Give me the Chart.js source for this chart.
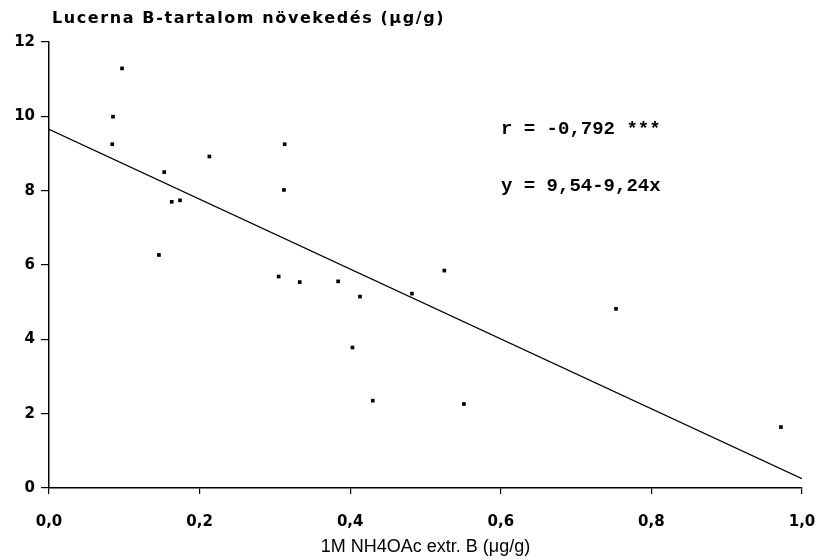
<!DOCTYPE html>
<html>
<head>
<meta charset="utf-8">
<script src="https://cdn.jsdelivr.net/npm/chart.js@4.4.1/dist/chart.umd.min.js"></script>
<style>
  html, body { margin: 0; padding: 0; background: #ffffff; }
  #wrap { width: 820px; height: 560px; position: relative; }
</style>
</head>
<body>
<div id="wrap"><canvas id="c" width="820" height="560"></canvas></div>
<script>
// ---- Data ----
const xValues = [0.097, 0.085, 0.084, 0.153, 0.213, 0.163, 0.174, 0.146, 0.313, 0.312,
                 0.305, 0.333, 0.384, 0.413, 0.403, 0.430, 0.482, 0.525, 0.551, 0.753, 0.972];
const yValues = [11.29, 9.99, 9.25, 8.50, 8.92, 7.70, 7.74, 6.27, 9.25, 8.02,
                 5.69, 5.54, 5.56, 5.15, 3.78, 2.35, 5.23, 5.85, 2.26, 4.82, 1.64];
const lineX = [0.0, 1.0];
const lineY = [9.65, 0.25];
const xTickLabels = ['0,0', '0,2', '0,4', '0,6', '0,8', '1,0'];
const yTickLabels = ['0', '2', '4', '6', '8', '10', '12'];
const yAxisTitle = 'Lucerna B-tartalom növekedés (μg/g)';
const xAxisTitle = '1M NH4OAc extr. B (μg/g)';
const rText = 'r = -0,792 ***';
const eqText = 'y = 9,54-9,24x';

const scatterData = xValues.map((x, i) => ({ x: x, y: yValues[i] }));
const lineData = lineX.map((x, i) => ({ x: x, y: lineY[i] }));

const textPlugin = {
  id: 'extraText',
  afterDraw(chart) {
    const ctx = chart.ctx;
    ctx.save();
    ctx.fillStyle = '#000';
    ctx.textBaseline = 'middle';
    ctx.textAlign = 'left';
    ctx.font = 'bold 16px "DejaVu Sans"';
    if ('letterSpacing' in ctx) ctx.letterSpacing = '1.6px';
    ctx.fillText(yAxisTitle, 52, 19);
    if ('letterSpacing' in ctx) ctx.letterSpacing = '0px';
    ctx.font = 'bold 19px "Liberation Mono"';
    ctx.fillText(rText, 501, 129);
    ctx.fillText(eqText, 501, 186);
    ctx.restore();
  }
};

new Chart(document.getElementById('c'), {
  type: 'scatter',
  data: {
    datasets: [
      {
        label: 'pontok',
        data: scatterData,
        backgroundColor: '#000',
        borderColor: '#000',
        pointStyle: 'rect',
        pointRadius: 2.6,
        borderWidth: 0
      },
      {
        type: 'line',
        label: 'regresszió',
        data: lineData,
        borderColor: '#000',
        borderWidth: 1.3,
        pointRadius: 0,
        fill: false,
        tension: 0
      }
    ]
  },
  options: {
    responsive: false,
    animation: false,
    layout: { padding: { top: 42, right: 18, left: 0, bottom: 0 } },
    plugins: {
      legend: { display: false },
      tooltip: { enabled: false }
    },
    scales: {
      x: {
        type: 'linear',
        min: 0, max: 1,
        border: { display: true, color: '#000', width: 1.5 },
        grid: { display: true, drawOnChartArea: false, color: '#000', tickLength: 6, lineWidth: 1.2 },
        ticks: {
          stepSize: 0.2,
          color: '#000',
          padding: 19,
          font: { family: '"DejaVu Sans"', size: 15, weight: 'bold' },
          callback: function (v, i) { return xTickLabels[i]; }
        },
        title: {
          display: true,
          text: xAxisTitle,
          color: '#000',
          font: { family: '"Liberation Sans"', size: 18 },
          padding: { top: 0, bottom: 2 }
        },
        afterFit: function (s) { s.height = 72; s.paddingRight = 0; s.paddingLeft = 0; }
      },
      y: {
        type: 'linear',
        min: 0, max: 12,
        border: { display: true, color: '#000', width: 1.5 },
        grid: { display: true, drawOnChartArea: false, color: '#000', tickLength: 8, lineWidth: 1.2 },
        ticks: {
          stepSize: 2,
          color: '#000',
          padding: 6,
          font: { family: '"DejaVu Sans"', size: 15, weight: 'bold' },
          callback: function (v, i) { return yTickLabels[i]; }
        },
        afterFit: function (s) { s.width = 49; }
      }
    }
  },
  plugins: [textPlugin]
});
</script>
</body>
</html>
